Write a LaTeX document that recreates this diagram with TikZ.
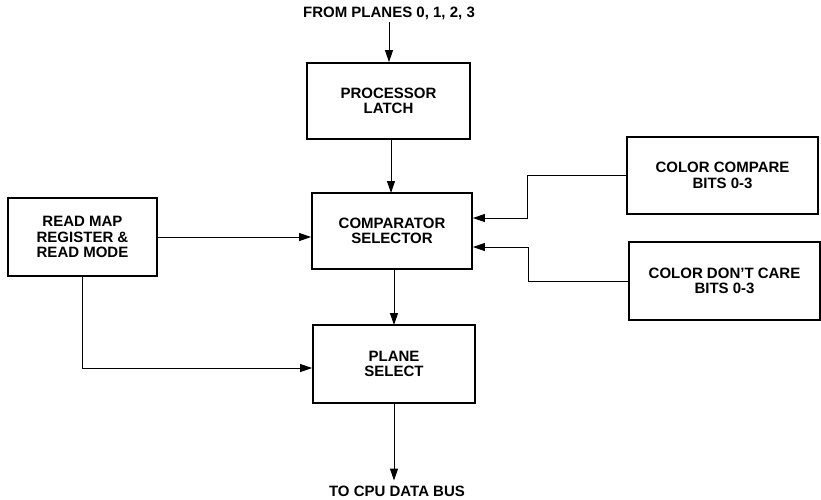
\documentclass[tikz,border=0pt]{standalone}
\usepackage{fontspec}
\setmainfont{Liberation Sans}
\usetikzlibrary{arrows.meta}
\begin{document}
\begin{tikzpicture}[x=1pt,y=-1pt,
  blk/.style={draw,line width=1.8pt,rectangle,align=center,inner sep=0pt,
    font=\fontsize{15}{15.5}\selectfont\bfseries},
  lbl/.style={font=\fontsize{15}{15.5}\selectfont\bfseries,inner sep=2pt},
  con/.style={line width=1pt,-{Triangle[length=12pt,width=8pt]}}]
\useasboundingbox (0,0) rectangle (821,499);
\node[blk,minimum width=163pt,minimum height=76pt] (latch) at (388.5,101) {PROCESSOR\\LATCH};
\node[blk,minimum width=160pt,minimum height=76pt] (comp) at (392,231) {COMPARATOR\\SELECTOR};
\node[blk,minimum width=162pt,minimum height=78pt] (plane) at (394,364) {PLANE\\SELECT};
\node[blk,minimum width=149pt,minimum height=78pt] (rm) at (82.5,237) {READ MAP\\REGISTER \&\\READ MODE};
\node[blk,minimum width=191pt,minimum height=77pt] (cc) at (722.5,175.5) {COLOR COMPARE\\BITS 0-3};
\node[blk,minimum width=191pt,minimum height=78pt] (dc) at (724.5,281) {COLOR DON'T CARE\\BITS 0-3};
\node[lbl] (top) at (389,13) {FROM PLANES 0, 1, 2, 3};
\node[lbl] (bot) at (397,491) {TO CPU DATA BUS};
\coordinate (c1) at (527,218);
\coordinate (c2) at (528,247);
\draw[con] (top.south) -- (top.south |- latch.north);
\draw[con] (391,139) -- (391,193);
\draw[con] (394,269) -- (394,325);
\draw[con] (plane.south) -- ([yshift=3pt]plane.south |- bot.north);
\draw[con] (rm.east) -- (rm.east -| comp.west);
\draw[con] (rm.south) |- ([yshift=-4pt]plane.west);
\draw[con] (cc.west) -| (c1) -- (c1 -| comp.east);
\draw[con] (dc.west) -| (c2) -- (c2 -| comp.east);
\end{tikzpicture}
\end{document}
